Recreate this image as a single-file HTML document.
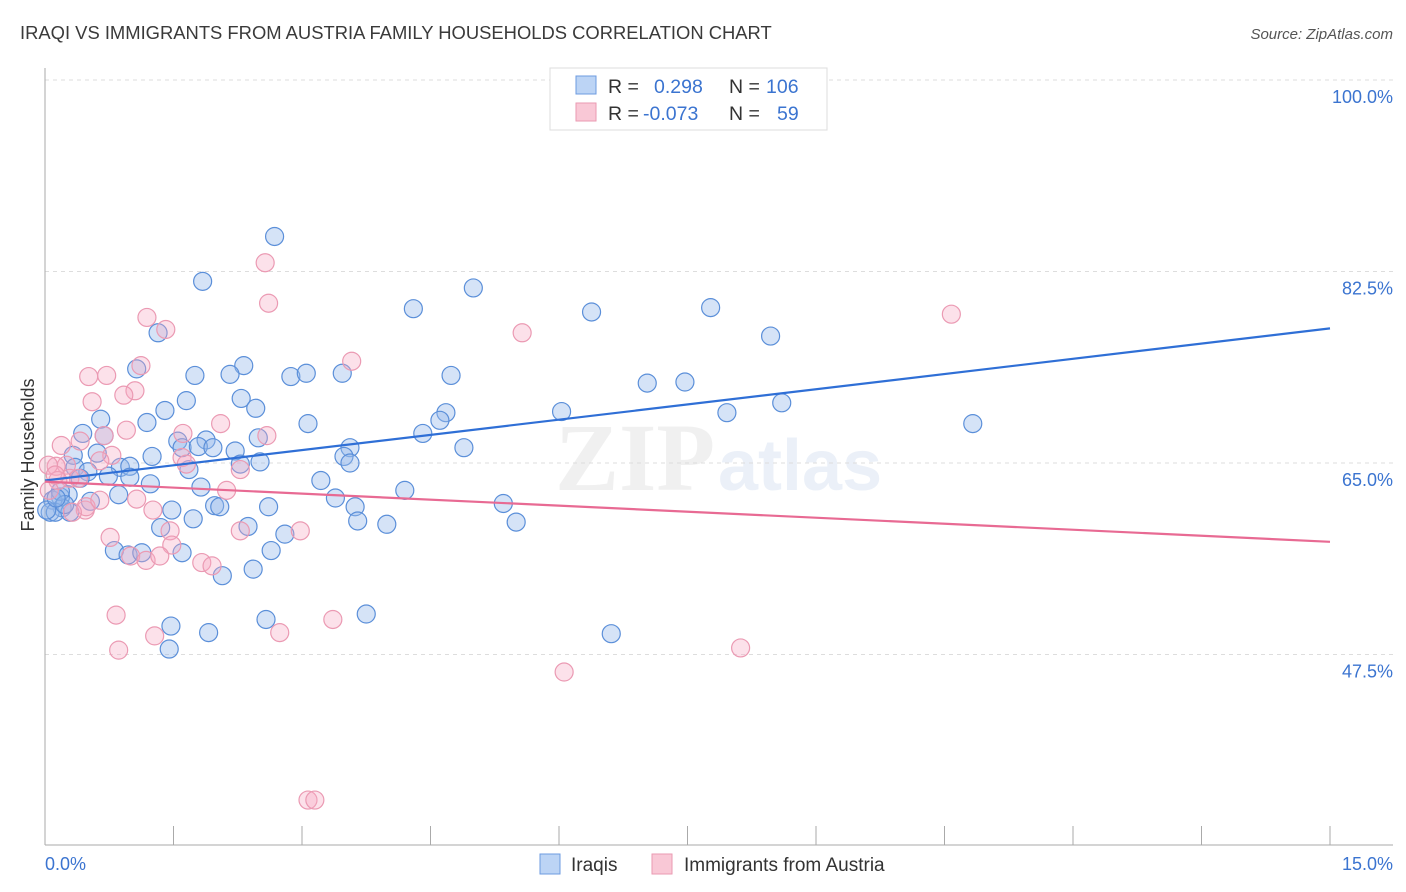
<!DOCTYPE html>
<html><head><meta charset="utf-8"><style>
body{margin:0;background:#fff;font-family:"Liberation Sans",sans-serif}
svg{display:block}
</style></head><body>
<svg id="chart" width="1406" height="892" viewBox="0 0 1406 892" xmlns="http://www.w3.org/2000/svg">
<text x="20" y="39" font-size="18.4" fill="#3a3a3a">IRAQI VS IMMIGRANTS FROM AUSTRIA FAMILY HOUSEHOLDS CORRELATION CHART</text>
<text x="1393" y="39" font-size="15" fill="#555" font-style="italic" text-anchor="end">Source: ZipAtlas.com</text>
<g opacity="0.28">
<text x="555" y="490" font-size="96" font-family="Liberation Serif" fill="#ccc" font-weight="bold">ZIP</text>
<text x="718" y="490" font-size="72" fill="#b8cce8" font-weight="bold">atlas</text>
</g>
<g id="grid"></g>
<g id="axes"></g>
<g id="pts"></g>
<g id="trends"></g>
<text transform="translate(34,455) rotate(-90)" font-size="18" fill="#333" text-anchor="middle">Family Households</text>
<g>
<rect x="550" y="68" width="277" height="62" fill="#fff" stroke="#ddd"/>
<rect x="576" y="76" width="20" height="18" fill="#bcd4f5" stroke="#6d9be0"/>
<rect x="576" y="103" width="20" height="18" fill="#f9c8d6" stroke="#ea9ab2"/>
<text x="608" y="93" font-size="19.5" fill="#333">R =</text>
<text x="654" y="93" font-size="19.5" fill="#3b74d0">0.298</text>
<text x="729" y="93" font-size="19.5" fill="#333">N =</text>
<text x="766" y="93" font-size="19.5" fill="#3b74d0">106</text>
<text x="608" y="120" font-size="19.5" fill="#333">R =</text>
<text x="643" y="120" font-size="19.5" fill="#3b74d0">-0.073</text>
<text x="729" y="120" font-size="19.5" fill="#333">N =</text>
<text x="777" y="120" font-size="19.5" fill="#3b74d0">59</text>
</g>
<g>
<rect x="540" y="854" width="20" height="20" fill="#bcd4f5" stroke="#6d9be0"/>
<text x="571" y="871" font-size="19" fill="#333">Iraqis</text>
<rect x="652" y="854" width="20" height="20" fill="#f9c8d6" stroke="#ea9ab2"/>
<text x="684" y="871" font-size="19" fill="#333">Immigrants from Austria</text>
</g>
</svg>
<script>
const yTicks=[100,82.5,65,47.5];
const yTickLabels=["100.0%","82.5%","65.0%","47.5%"];
const xLabels=["0.0%","15.0%"];
const blueX=[2.68,1.84,5.00,4.30,6.38,7.77,8.47,1.32,1.07,1.75,2.32,2.16,2.87,3.05,3.47,4.74,7.03,7.47,1.65,2.29,2.46,1.40,1.19,0.65,0.44,0.69,3.07,4.68,4.61,6.03,7.96,8.60,10.83,4.41,4.89,3.56,3.49,3.56,1.88,1.55,1.60,1.79,1.96,2.22,2.49,2.51,2.28,1.25,0.61,0.33,0.88,0.99,0.35,0.50,0.74,0.41,0.99,1.23,1.82,1.68,3.22,4.20,3.39,3.62,2.61,1.98,2.04,1.48,1.73,0.86,0.53,0.27,0.18,0.20,0.09,0.06,0.12,0.29,5.35,5.50,3.65,3.99,2.37,2.80,1.35,2.64,1.60,0.81,0.97,1.13,2.43,2.07,3.75,2.58,1.47,1.91,1.45,6.61,0.18,0.23,0.02,0.13];
const blueY=[85.7,81.6,81.0,79.1,78.8,79.2,76.6,76.9,73.6,73.0,73.9,73.1,72.9,73.2,73.2,73.0,72.3,72.4,70.7,70.9,70.0,69.8,68.7,69.0,67.7,67.5,68.6,69.6,68.9,69.7,69.6,70.5,68.6,67.7,66.4,66.4,65.6,65.0,67.1,67.0,66.4,66.5,66.4,66.1,67.3,65.1,64.9,65.6,65.9,65.7,64.6,64.7,64.6,64.2,63.8,63.6,63.7,63.1,62.8,64.4,63.4,62.5,61.8,61.0,61.0,61.1,61.0,60.7,59.9,62.1,61.5,62.1,61.9,60.9,61.6,60.5,60.5,60.5,61.3,59.6,59.7,59.4,59.2,58.5,59.1,57.0,56.8,57.0,56.6,56.8,55.3,54.7,51.2,50.7,50.1,49.5,48.0,49.4,62.4,61.2,60.7,61.8];
const pinkX=[2.57,2.61,10.58,5.57,1.19,1.41,3.58,1.12,0.51,0.72,1.05,0.92,0.55,2.05,0.95,1.61,2.59,0.69,0.19,0.41,0.78,1.60,1.65,2.28,0.64,0.25,0.13,0.29,0.15,0.39,0.47,2.12,1.07,1.26,2.98,2.28,1.46,0.76,1.48,1.00,1.18,1.34,1.83,1.95,0.83,3.36,2.74,1.28,0.86,8.12,6.06,3.07,3.15,0.48,0.32,0.04,0.05,0.64,0.12];
const pinkY=[83.3,79.6,78.6,76.9,78.3,77.2,74.3,73.9,72.9,73.0,71.6,71.2,70.6,68.6,68.0,67.7,67.5,67.5,66.6,67.0,65.7,65.5,64.9,64.4,65.2,64.8,64.7,63.6,63.4,63.6,60.7,62.5,61.7,60.7,58.8,58.8,58.8,58.2,57.5,56.5,56.1,56.5,55.9,55.6,51.1,50.7,49.5,49.2,47.9,48.1,45.9,34.2,34.2,61.0,60.5,64.8,62.5,61.6,63.9];
const blueTrend=[63.4,77.3];
const pinkTrend=[63.3,57.8];
const NS="http://www.w3.org/2000/svg";
const X=v=>45+v/15*1285;
const Y=v=>80+(100-v)*(191.5/17.5);
function mk(tag,attrs,parent){const e=document.createElementNS(NS,tag);for(const k in attrs)e.setAttribute(k,attrs[k]);parent.appendChild(e);return e;}
const grid=document.getElementById('grid'),axes=document.getElementById('axes'),pts=document.getElementById('pts'),tr=document.getElementById('trends');
yTicks.forEach((t,i)=>{
 const l=mk('line',{x1:45,x2:1393,y1:Y(t),y2:Y(t),stroke:'#ddd','stroke-dasharray':'4,4'},grid);
 
 
 const tx=mk('text',{x:1393,y:Y(t)+23,'font-size':18,fill:'#3b74d0','text-anchor':'end'},axes);
 tx.textContent=yTickLabels[i];
 
 
});
mk('line',{x1:45,x2:45,y1:68,y2:845,stroke:'#aaa'},axes);
mk('line',{x1:45,x2:1393,y1:845,y2:845,stroke:'#aaa'},axes);
for(let i=0;i<=10;i++){const tk=mk('line',{x1:X(i*1.5),x2:X(i*1.5),y1:826,y2:845,stroke:'#aaa'},axes);
 
 }
const xl0=mk('text',{x:45,y:870,'font-size':18,fill:'#3b74d0'},axes);xl0.textContent=xLabels[0];


const xl1=mk('text',{x:1393,y:870,'font-size':18,fill:'#3b74d0','text-anchor':'end'},axes);xl1.textContent=xLabels[1];


blueX.forEach((v,i)=>{const c=mk('circle',{cx:X(v),cy:Y(blueY[i]),r:9,fill:'rgba(150,185,235,0.4)',stroke:'#5b8fd9','stroke-width':1.2},pts);
 
 });
pinkX.forEach((v,i)=>{const c=mk('circle',{cx:X(v),cy:Y(pinkY[i]),r:9,fill:'rgba(245,170,195,0.35)',stroke:'#eb9ab3','stroke-width':1.2},pts);
 
 });
const bl=mk('line',{x1:X(0),y1:Y(blueTrend[0]),x2:X(15),y2:Y(blueTrend[1]),stroke:'#2f6fd6','stroke-width':2.2},tr);


const pl=mk('line',{x1:X(0),y1:Y(pinkTrend[0]),x2:X(15),y2:Y(pinkTrend[1]),stroke:'#e86a93','stroke-width':2.2},tr);


</script>
</body></html>
